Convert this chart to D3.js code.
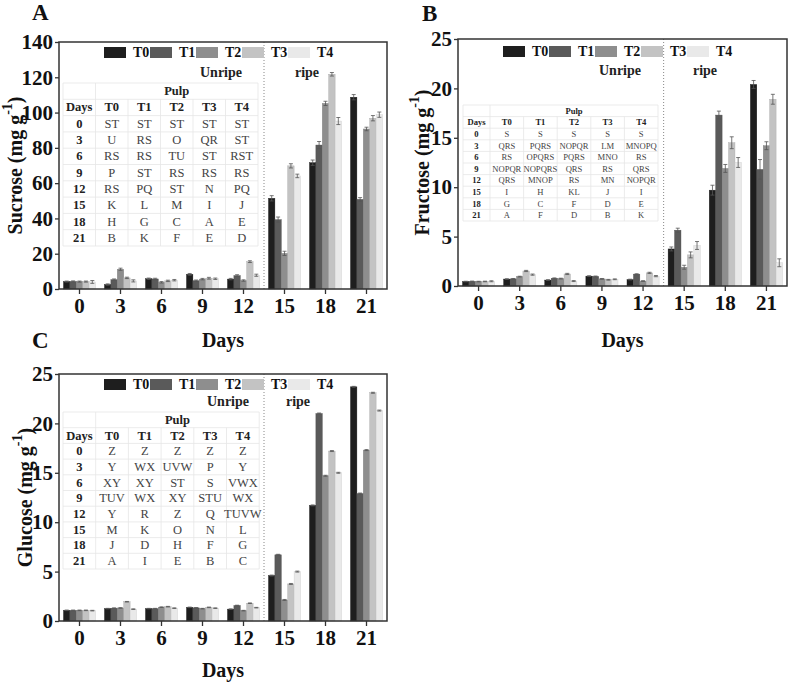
<!DOCTYPE html>
<html><head><meta charset="utf-8">
<script src="https://cdn.jsdelivr.net/npm/d3@7"></script>
<style>
body{margin:0;background:#fff;}
svg, svg text{font-family:"Liberation Serif","Times New Roman","DejaVu Serif",serif;}
</style></head>
<body><svg id="chart" width="788" height="683"></svg>
<script>
const days = ["0","3","6","9","12","15","18","21"];
const treatments = ["T0","T1","T2","T3","T4"];
const colors = ["#1e1e1e","#5a5a5a","#8e8e8e","#c3c3c3","#e9e9e9"];

// Sucrose (mg g-1)
const sucroseT0 = [4.2, 2.5, 5.8, 8.3, 5.6, 51.4, 71.6, 108.7];
const sucroseT1 = [4.3, 5.3, 5.7, 4.7, 7.6, 39.3, 81.6, 50.8];
const sucroseT2 = [4.2, 11.2, 3.8, 5.6, 4.8, 20.2, 105.2, 90.7];
const sucroseT3 = [4.2, 6.3, 4.6, 6.1, 15.5, 69.8, 121.7, 96.8];
const sucroseT4 = [4.0, 4.6, 5.0, 5.8, 7.8, 64.1, 95.2, 98.8];
const sucroseErrT0 = [0.3, 0.4, 0.4, 0.5, 0.4, 1.5, 1.5, 1.5];
const sucroseErrT1 = [0.3, 0.4, 0.4, 0.4, 0.5, 1.5, 2.0, 1.0];
const sucroseErrT2 = [0.3, 0.6, 0.4, 0.4, 0.4, 1.2, 1.2, 1.0];
const sucroseErrT3 = [0.3, 0.4, 0.4, 0.5, 0.5, 1.2, 1.0, 1.5];
const sucroseErrT4 = [0.8, 0.6, 0.4, 0.4, 0.6, 1.0, 2.0, 1.5];

// Fructose (mg g-1)
const fructoseT0 = [0.45, 0.70, 0.60, 1.00, 0.65, 3.75, 9.7, 20.4];
const fructoseT1 = [0.47, 0.72, 0.78, 0.97, 1.20, 5.65, 17.3, 11.8];
const fructoseT2 = [0.45, 0.95, 0.75, 0.72, 0.50, 1.90, 11.9, 14.2];
const fructoseT3 = [0.46, 1.52, 1.22, 0.63, 1.33, 3.15, 14.5, 18.9];
const fructoseT4 = [0.48, 1.15, 0.50, 0.68, 1.00, 4.10, 12.5, 2.35];
const fructoseErrT0 = [0.03, 0.04, 0.04, 0.04, 0.04, 0.2, 0.5, 0.4];
const fructoseErrT1 = [0.03, 0.04, 0.04, 0.04, 0.04, 0.2, 0.4, 1.0];
const fructoseErrT2 = [0.03, 0.04, 0.04, 0.04, 0.04, 0.2, 0.4, 0.4];
const fructoseErrT3 = [0.03, 0.06, 0.06, 0.04, 0.06, 0.3, 0.6, 0.5];
const fructoseErrT4 = [0.05, 0.06, 0.05, 0.04, 0.06, 0.4, 0.5, 0.4];

// Glucose (mg g-1)
const glucoseT0 = [1.08, 1.25, 1.25, 1.38, 1.20, 4.60, 11.7, 23.7];
const glucoseT1 = [1.08, 1.30, 1.25, 1.33, 1.57, 6.70, 21.0, 12.9];
const glucoseT2 = [1.08, 1.32, 1.40, 1.25, 1.05, 2.13, 14.7, 17.3];
const glucoseT3 = [1.08, 1.95, 1.45, 1.38, 1.80, 3.75, 17.2, 23.1];
const glucoseT4 = [1.05, 1.20, 1.30, 1.30, 1.35, 5.00, 15.0, 21.3];
const glucoseErrT0 = [0.03, 0.03, 0.03, 0.03, 0.03, 0.05, 0.05, 0.05];
const glucoseErrT1 = [0.03, 0.03, 0.03, 0.03, 0.03, 0.05, 0.05, 0.05];
const glucoseErrT2 = [0.03, 0.03, 0.03, 0.03, 0.03, 0.05, 0.05, 0.05];
const glucoseErrT3 = [0.03, 0.03, 0.03, 0.03, 0.03, 0.05, 0.05, 0.05];
const glucoseErrT4 = [0.03, 0.03, 0.03, 0.03, 0.03, 0.05, 0.05, 0.05];

// Significance letters (rows = days, cols = T0..T4)
const sucroseLetters = [
  ["ST","ST","ST","ST","ST"],["U","RS","O","QR","ST"],["RS","RS","TU","ST","RST"],
  ["P","ST","RS","RS","RS"],["RS","PQ","ST","N","PQ"],["K","L","M","I","J"],
  ["H","G","C","A","E"],["B","K","F","E","D"]];
const fructoseLetters = [
  ["S","S","S","S","S"],["QRS","PQRS","NOPQR","LM","MNOPQ"],["RS","OPQRS","PQRS","MNO","RS"],
  ["NOPQR","NOPQRS","QRS","RS","QRS"],["QRS","MNOP","RS","MN","NOPQR"],["I","H","KL","J","I"],
  ["G","C","F","D","E"],["A","F","D","B","K"]];
const glucoseLetters = [
  ["Z","Z","Z","Z","Z"],["Y","WX","UVW","P","Y"],["XY","XY","ST","S","VWX"],
  ["TUV","WX","XY","STU","WX"],["Y","R","Z","Q","TUVW"],["M","K","O","N","L"],
  ["J","D","H","F","G"],["A","I","E","B","C"]];

const sucroseTicks = [0,20,40,60,80,100,120,140];
const sugarTicks = [0,5,10,15,20,25];

const FONT = "Liberation Serif, Times New Roman, DejaVu Serif, serif";
const svg = d3.select("#chart").attr("font-family", FONT);

function txt(sel) { return sel.append("text").attr("font-family", FONT); }

function drawPanel(c) {
  const g = svg.append("g");
  const x0 = d3.scaleBand().domain(days).range([c.L, c.R]);
  const x1 = d3.scaleBand().domain(treatments).range([0, x0.bandwidth()]).paddingInner(0).paddingOuter(0.7);
  const y = d3.scaleLinear().domain([0, c.yMax]).range([c.B, c.T]);

  // bars
  c.series.forEach((vals, ti) => {
    const sg = g.append("g");
    sg.selectAll("rect").data(vals).join("rect")
      .attr("x", (d,i) => x0(days[i]) + x1(treatments[ti]))
      .attr("y", d => y(d))
      .attr("width", x1.bandwidth())
      .attr("height", d => c.B - y(d))
      .attr("fill", colors[ti])
      .attr("stroke", d3.color(colors[ti]).darker(0.4))
      .attr("stroke-width", 0.4);
    const eg = g.append("g").attr("stroke", "#555").attr("stroke-width", 0.8);
    vals.forEach((d,i) => {
      const e = c.errors[ti][i];
      const cx = x0(days[i]) + x1(treatments[ti]) + x1.bandwidth()/2;
      eg.append("line").attr("x1", cx).attr("x2", cx).attr("y1", y(d+e)).attr("y2", y(Math.max(0,d-e)));
      eg.append("line").attr("x1", cx-2).attr("x2", cx+2).attr("y1", y(d+e)).attr("y2", y(d+e));
      eg.append("line").attr("x1", cx-2).attr("x2", cx+2).attr("y1", y(Math.max(0,d-e))).attr("y2", y(Math.max(0,d-e)));
    });
  });

  // divider between unripe and ripe
  const divX = x0("15");
  g.append("line").attr("x1", divX).attr("x2", divX).attr("y1", c.T).attr("y2", c.B)
    .attr("stroke", "#888").attr("stroke-width", 1).attr("stroke-dasharray", "1,2");

  // frame
  g.append("rect").attr("x", c.L).attr("y", c.T).attr("width", c.R - c.L).attr("height", c.B - c.T)
    .attr("fill", "none").attr("stroke", "#333").attr("stroke-width", 1.5);

  // axes
  const ya = g.append("g").attr("transform", `translate(${c.L},0)`)
    .call(d3.axisLeft(y).tickValues(c.ticks).tickSize(4).tickPadding(2));
  const xa = g.append("g").attr("transform", `translate(0,${c.B})`)
    .call(d3.axisBottom(x0).tickSize(5).tickPadding(4));
  [ya, xa].forEach(a => {
    a.attr("font-family", FONT);
    a.select(".domain").remove();
    a.selectAll("line").attr("stroke", "#333").attr("stroke-width", 1.3);
    a.selectAll("text").attr("font-family", FONT)
      .attr("font-weight", "bold").attr("font-size", 21).attr("fill", "#111");
  });

  // axis titles
  const yl = txt(g)
    .attr("transform", `translate(${c.ylx},${(c.T + c.B)/2}) rotate(-90)`)
    .attr("text-anchor", "middle").attr("dominant-baseline", "central")
    .attr("font-weight", "bold").attr("font-size", 20).attr("fill", "#111");
  yl.append("tspan").text(c.yLabel + " (mg g");
  yl.append("tspan").attr("baseline-shift", "super").attr("font-size", 14).text("-1");
  yl.append("tspan").text(")");

  txt(g).attr("x", (c.L + c.R)/2).attr("y", c.daysY)
    .attr("text-anchor", "middle").attr("font-weight", "bold").attr("font-size", 20).attr("fill", "#111")
    .text("Days");

  txt(g).attr("x", c.letterX).attr("y", c.letterY)
    .attr("font-weight", "bold").attr("font-size", 23).attr("fill", "#111").text(c.letter);

  // legend
  const lg = g.append("g").attr("transform", `translate(${c.L},${c.T + c.legDy})`);
  treatments.forEach((t, i) => {
    lg.append("rect").attr("x", 45 + i*46).attr("y", 0).attr("width", 22).attr("height", 11)
      .attr("fill", colors[i]);
    txt(lg).attr("x", 74 + i*46).attr("y", 10).attr("font-weight", "bold")
      .attr("font-size", 14).attr("fill", "#111").text(t);
  });

  txt(g).attr("x", c.L + c.unripeX).attr("y", c.T + c.stageDy)
    .attr("text-anchor", "middle").attr("font-weight", "bold").attr("font-size", 14).attr("fill", "#222").text("Unripe");
  txt(g).attr("x", c.L + c.ripeX).attr("y", c.T + c.stageDy)
    .attr("text-anchor", "middle").attr("font-weight", "bold").attr("font-size", 14).attr("fill", "#222").text("ripe");

  // table
  const tb = c.table;
  const tg = g.append("g");
  const colX = [tb.x]; tb.cw.forEach(w => colX.push(colX[colX.length-1] + w));
  const nRows = 2 + days.length;
  const tW = colX[colX.length-1] - tb.x;
  tg.append("rect").attr("x", tb.x).attr("y", tb.y).attr("width", tW).attr("height", nRows*tb.rh)
    .attr("fill", "#fff").attr("fill-opacity", 0.9);
  for (let r = 0; r <= nRows; r++) {
    tg.append("line").attr("x1", tb.x).attr("x2", tb.x + tW)
      .attr("y1", tb.y + r*tb.rh).attr("y2", tb.y + r*tb.rh)
      .attr("stroke", "#e6e6e6").attr("stroke-width", 0.8);
  }
  colX.forEach((cx, i) => {
    tg.append("line").attr("x1", cx).attr("x2", cx)
      .attr("y1", tb.y + (i === 0 || i === colX.length-1 || i === 1 ? 0 : tb.rh)).attr("y2", tb.y + nRows*tb.rh)
      .attr("stroke", "#e6e6e6").attr("stroke-width", 0.8);
  });
  const mid = i => (colX[i] + colX[i+1]) / 2;
  const rowY = r => tb.y + (r + 0.5)*tb.rh;
  txt(tg).attr("x", (colX[1] + colX[6])/2).attr("y", rowY(0)).attr("dominant-baseline", "central")
    .attr("text-anchor", "middle").attr("font-weight", "bold").attr("font-size", tb.fs).attr("fill", "#222").text("Pulp");
  ["Days"].concat(treatments).forEach((h, i) => {
    txt(tg).attr("x", mid(i)).attr("y", rowY(1)).attr("dominant-baseline", "central")
      .attr("text-anchor", "middle").attr("font-weight", "bold").attr("font-size", tb.fs).attr("fill", "#222").text(h);
  });
  days.forEach((d, r) => {
    txt(tg).attr("x", mid(0)).attr("y", rowY(r+2)).attr("dominant-baseline", "central")
      .attr("text-anchor", "middle").attr("font-weight", "bold").attr("font-size", tb.fs).attr("fill", "#222").text(d);
    c.letters[r].forEach((l, i) => {
      txt(tg).attr("x", mid(i+1)).attr("y", rowY(r+2)).attr("dominant-baseline", "central")
        .attr("text-anchor", "middle").attr("font-size", tb.fs).attr("fill", "#444").text(l);
    });
  });
}

drawPanel({
  L: 59, R: 387, T: 42, B: 289, yMax: 140, ticks: sucroseTicks,
  series: [sucroseT0, sucroseT1, sucroseT2, sucroseT3, sucroseT4],
  errors: [sucroseErrT0, sucroseErrT1, sucroseErrT2, sucroseErrT3, sucroseErrT4],
  letters: sucroseLetters, yLabel: "Sucrose", ylx: 15, daysY: 347,
  letter: "A", letterX: 32, letterY: 20, legDy: 5, stageDy: 35, unripeX: 162, ripeX: 248,
  table: {x: 63, y: 83, cw: [32.5,32.5,32.5,32.5,32.5,32.5], rh: 16.3, fs: 12.5}
});
drawPanel({
  L: 458, R: 787, T: 39, B: 286, yMax: 25, ticks: sugarTicks,
  series: [fructoseT0, fructoseT1, fructoseT2, fructoseT3, fructoseT4],
  errors: [fructoseErrT0, fructoseErrT1, fructoseErrT2, fructoseErrT3, fructoseErrT4],
  letters: fructoseLetters, yLabel: "Fructose", ylx: 422, daysY: 347,
  letter: "B", letterX: 422, letterY: 21, legDy: 7, stageDy: 36, unripeX: 162, ripeX: 247,
  table: {x: 463, y: 105, cw: [27,33.6,33.6,33.6,33.6,33.6], rh: 11.6, fs: 8.6}
});
drawPanel({
  L: 59, R: 387, T: 374, B: 621, yMax: 25, ticks: sugarTicks,
  series: [glucoseT0, glucoseT1, glucoseT2, glucoseT3, glucoseT4],
  errors: [glucoseErrT0, glucoseErrT1, glucoseErrT2, glucoseErrT3, glucoseErrT4],
  letters: glucoseLetters, yLabel: "Glucose", ylx: 25, daysY: 677,
  letter: "C", letterX: 32, letterY: 348, legDy: 5, stageDy: 32, unripeX: 169, ripeX: 239,
  table: {x: 63, y: 412, cw: [32.7,32.7,32.7,32.7,32.7,32.7], rh: 15.7, fs: 12.5}
});
</script></body></html>
